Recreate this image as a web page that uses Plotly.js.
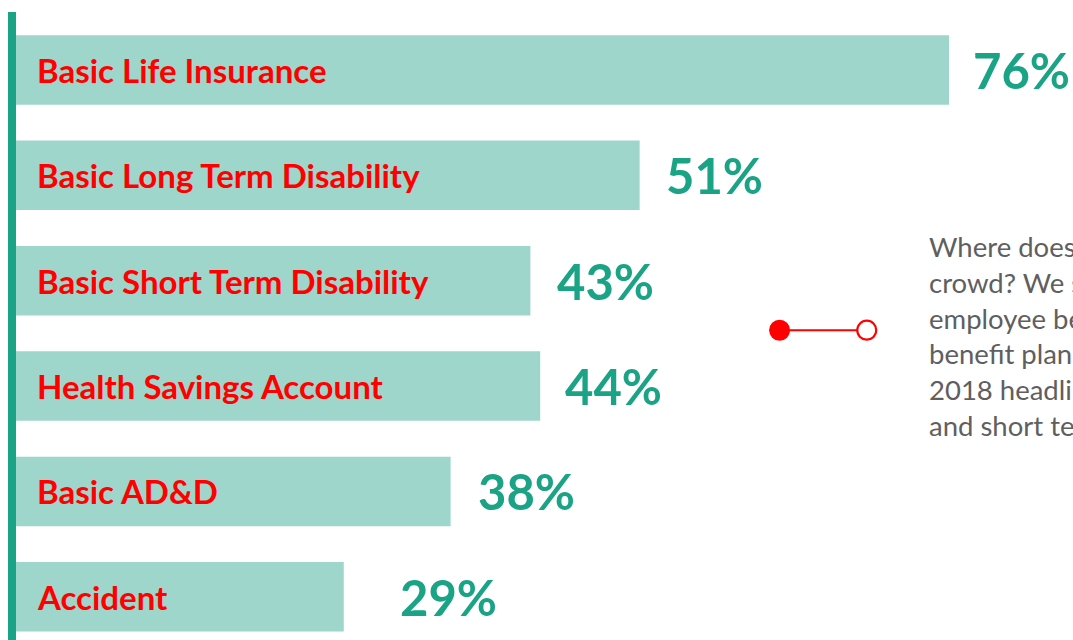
<!DOCTYPE html>
<html>
<head>
<meta charset="utf-8">
<script src="https://cdn.plot.ly/plotly-3.0.1.min.js"></script>
<style>html,body{margin:0;padding:0;background:#fff;overflow:hidden}#chart{width:1073px;height:640px}</style>
</head>
<body>
<div id="chart"></div>
<script>
// ---- data ----
const categories = ["Basic Life Insurance", "Basic Long Term Disability", "Basic Short Term Disability", "Health Savings Account", "Basic AD&D", "Accident"];
const pctLabels = [76, 51, 43, 44, 38, 29];              // printed percentages
const barLengths = [76, 50.8, 41.9, 42.7, 35.4, 26.7];   // drawn bar lengths (as measured in picture)
const noteLines = [
  "Where does your organization stand in the",
  "crowd? We surveyed employers about their",
  "employee benefits to learn which voluntary",
  "benefit plans were most popular. In",
  "2018 headlines were basic life, long term",
  "and short term disability."
];
const connectorX = [62.2, 69.3];
const connectorY = [2.47, 2.47];

// ---- styling ----
const teal = "#1ba385";
const barColor = "#9fd6cc";
const labelGap = [22, 24, 25, 23, 25, 54];
const idx = categories.map((c, i) => i);

const traces = [
  {
    type: "bar", orientation: "h",
    x: barLengths, y: idx,
    width: 0.66,
    marker: { color: barColor },
    hoverinfo: "skip"
  },
  {
    type: "scatter", mode: "lines+markers",
    x: connectorX, y: connectorY,
    line: { color: "#ff0000", width: 2 },
    marker: {
      size: [21, 19],
      color: ["#ff0000", "#ffffff"],
      opacity: 1,
      line: { color: "#ff0000", width: [0, 2.2] }
    },
    hoverinfo: "skip"
  }
];

const annotations = [];
categories.forEach((c, i) => {
  annotations.push({
    x: 0, y: i, xref: "x", yref: "y",
    text: c, showarrow: false, xanchor: "left", yanchor: "middle",
    xshift: 19,
    font: { family: "Lato, sans-serif", size: 33, color: "#ff0000", weight: 700 }
  });
  annotations.push({
    x: barLengths[i], y: i, xref: "x", yref: "y",
    text: pctLabels[i] + "%", showarrow: false, xanchor: "left", yanchor: "middle",
    xshift: labelGap[i],
    font: { family: "Lato, sans-serif", size: 49, color: teal, weight: 700 }
  });
});
annotations.push({
  x: 0.8618, y: 0.484, xref: "paper", yref: "paper",
  text: noteLines.join("<br>"), showarrow: false,
  xanchor: "left", yanchor: "middle", align: "left",
  font: { family: "Lato, sans-serif", size: 27.5, color: "#5f5f5f" }
});

const layout = {
  width: 1073, height: 640,
  margin: { l: 16, r: 0, t: 12, b: 0 },
  paper_bgcolor: "#ffffff", plot_bgcolor: "#ffffff",
  showlegend: false,
  xaxis: { range: [0, 86.1], visible: false, fixedrange: true },
  yaxis: {
    range: [5.41, -0.55], showgrid: false, zeroline: false,
    showticklabels: false, ticks: "",
    showline: true, linecolor: teal, linewidth: 8, layer: "above traces",
    fixedrange: true
  },
  annotations: annotations
};

Plotly.newPlot("chart", traces, layout, { displayModeBar: false, staticPlot: true });
</script>
</body>
</html>
